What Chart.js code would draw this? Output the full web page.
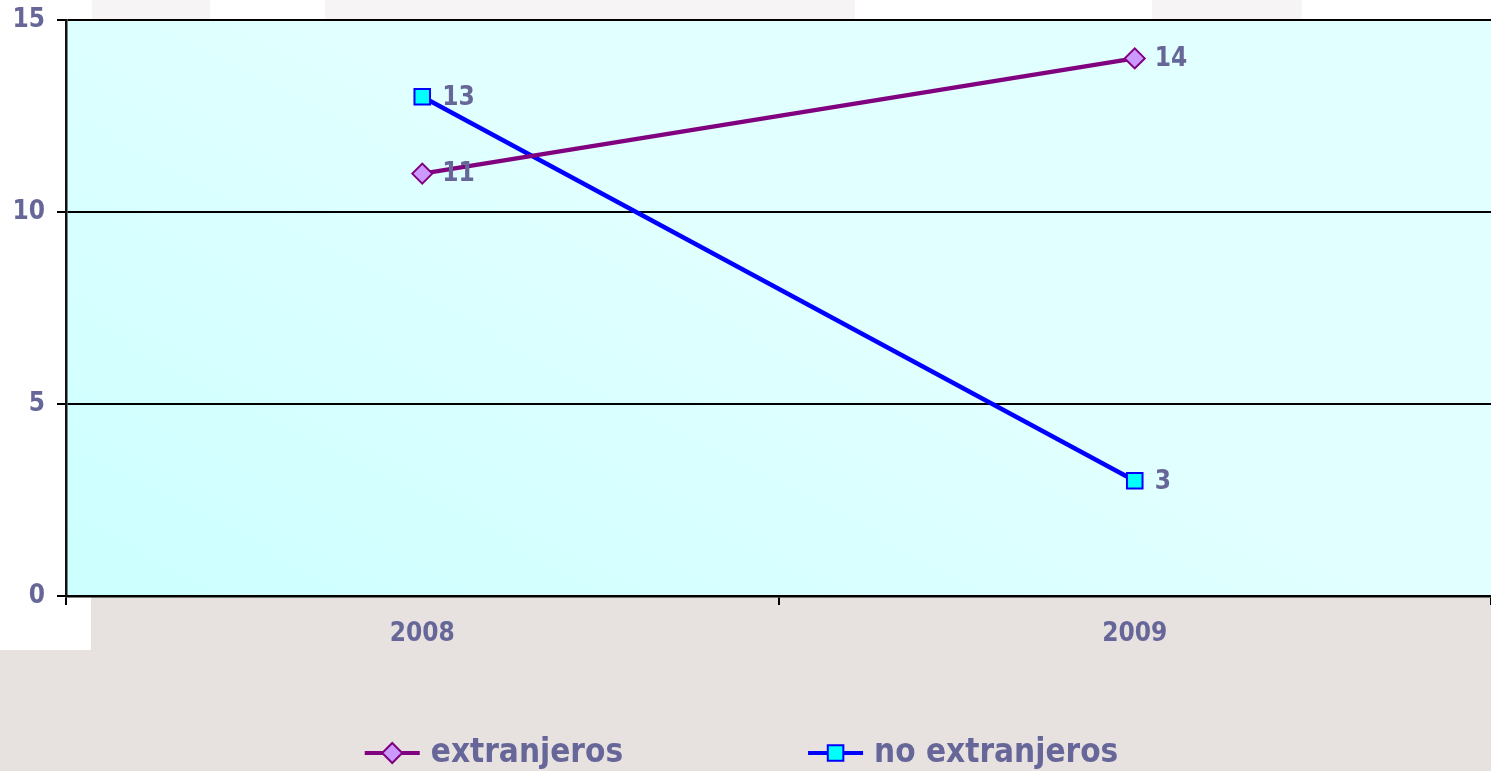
<!DOCTYPE html>
<html>
<head>
<meta charset="utf-8">
<script src="https://cdn.jsdelivr.net/npm/chart.js@4.4.0/dist/chart.umd.min.js"></script>
<style>
    html, body { margin: 0; padding: 0; background: #ffffff; }
    #wrap { width: 1491px; height: 771px; }
</style>
</head>
<body>
<div id="wrap"><canvas id="myLineChart" width="1491" height="771"></canvas></div>
<script>
var years = ["2008", "2009"];
var extranjeros = [11, 14];
var noExtranjeros = [13, 3];
var seriesNames = ["extranjeros", "no extranjeros"];
var yMin = 0;
var yMax = 15;
var yStep = 5;

var FONT = '"DejaVu Sans Condensed", "DejaVu Sans", sans-serif';
var TEXT = "#666699";

// page background + plot area gradient
var backgroundPlugin = {
    id: "pageBackground",
    beforeDraw: function (chart) {
        var ctx = chart.ctx;
        var a = chart.chartArea;
        var w = chart.width;
        var h = chart.height;
        ctx.save();
        ctx.fillStyle = "#ffffff";
        ctx.fillRect(0, 0, w, h);
        ctx.fillStyle = "#f6f4f4";
        ctx.fillRect(92, 0, 118, a.top);
        ctx.fillRect(325, 0, 530, a.top);
        ctx.fillRect(1152, 0, 150, a.top);
        ctx.fillStyle = "#e7e2e0";
        ctx.fillRect(91, a.bottom, w - 91, h - a.bottom);
        ctx.fillRect(0, a.bottom + 54, 91, h - a.bottom - 54);
        var g = ctx.createLinearGradient(a.left, a.bottom, a.left + 300, a.top);
        g.addColorStop(0, "#ccffff");
        g.addColorStop(1, "#e2ffff");
        ctx.fillStyle = g;
        ctx.fillRect(a.left, a.top, a.right - a.left, a.bottom - a.top);
        ctx.restore();
    },
};

// value labels to the right of each point
var valueLabelPlugin = {
    id: "valueLabels",
    afterDatasetsDraw: function (chart) {
        var ctx = chart.ctx;
        ctx.save();
        ctx.font = "bold 26px " + FONT;
        ctx.fillStyle = TEXT;
        ctx.textAlign = "left";
        ctx.textBaseline = "middle";
        chart.data.datasets.forEach(function (ds, i) {
            chart.getDatasetMeta(i).data.forEach(function (pt, j) {
                ctx.fillText(String(ds.data[j]), pt.x + 20, pt.y + 1);
            });
        });
        ctx.restore();
    },
};

// legend: line + marker sample, then name
var bottomLegendPlugin = {
    id: "bottomLegend",
    afterDraw: function (chart) {
        var ctx = chart.ctx;
        var y = chart.height - 18;
        var lineLen = 55;
        var gapText = 11;
        var gapItem = 185;
        ctx.save();
        ctx.font = "bold 33px " + FONT;
        var widths = chart.data.datasets.map(function (ds) {
            return ctx.measureText(ds.label).width;
        });
        var total = 0;
        widths.forEach(function (wd, i) {
            total += lineLen + gapText + wd + (i > 0 ? gapItem : 0);
        });
        var x = (chart.width - total) / 2 - 4;
        chart.data.datasets.forEach(function (ds, i) {
            ctx.strokeStyle = ds.borderColor;
            ctx.lineWidth = 4;
            ctx.beginPath();
            ctx.moveTo(x, y);
            ctx.lineTo(x + lineLen, y);
            ctx.stroke();
            ctx.fillStyle = ds.pointBackgroundColor;
            ctx.strokeStyle = ds.pointBorderColor;
            ctx.lineWidth = ds.pointBorderWidth;
            Chart.helpers.drawPoint(ctx, {
                pointStyle: ds.pointStyle,
                radius: ds.pointRadius,
                borderWidth: ds.pointBorderWidth,
                rotation: 0,
            }, x + lineLen / 2, y);
            ctx.fillStyle = TEXT;
            ctx.textAlign = "left";
            ctx.textBaseline = "middle";
            ctx.fillText(ds.label, x + lineLen + gapText, y);
            x += lineLen + gapText + widths[i] + gapItem;
        });
        ctx.restore();
    },
};

var ctx = document.getElementById("myLineChart");
new Chart(ctx, {
    type: "line",
    data: {
        labels: years,
        datasets: [
            {
                label: seriesNames[0],
                data: extranjeros,
                borderColor: "#800080",
                borderWidth: 4.5,
                pointStyle: "rectRot",
                pointRadius: 10,
                pointBackgroundColor: "#cc99ff",
                pointBorderColor: "#800080",
                pointBorderWidth: 2,
                tension: 0,
            },
            {
                label: seriesNames[1],
                data: noExtranjeros,
                borderColor: "#0000ff",
                borderWidth: 4.5,
                pointStyle: "rect",
                pointRadius: 11,
                pointBackgroundColor: "#00ffff",
                pointBorderColor: "#0000ff",
                pointBorderWidth: 2,
                tension: 0,
            },
        ],
    },
    options: {
        responsive: false,
        animation: false,
        devicePixelRatio: 1,
        layout: {
            autoPadding: false,
            padding: { top: 20, left: 0, right: 0, bottom: 0 },
        },
        plugins: {
            legend: { display: false },
            tooltip: { enabled: false },
        },
        scales: {
            x: {
                offset: true,
                grid: {
                    offset: true,
                    drawOnChartArea: false,
                    drawTicks: true,
                    tickLength: 9,
                    color: "#000000",
                    lineWidth: 2,
                },
                border: { display: true, color: "#000000", width: 2.5 },
                ticks: {
                    color: TEXT,
                    font: { family: FONT, size: 26, weight: "bold" },
                    padding: 14,
                },
                afterFit: function (scale) {
                    scale.height = 175;
                    scale.paddingLeft = 0;
                    scale.paddingRight = 0;
                },
            },
            y: {
                min: yMin,
                max: yMax,
                grid: {
                    color: "#000000",
                    lineWidth: 2,
                    tickLength: 9,
                },
                border: { display: true, color: "#111111", width: 2.5 },
                ticks: {
                    stepSize: yStep,
                    color: TEXT,
                    font: { family: FONT, size: 26, weight: "bold" },
                    padding: 12,
                },
                afterFit: function (scale) {
                    scale.width = 66;
                    scale.paddingTop = 0;
                    scale.paddingBottom = 0;
                },
            },
        },
    },
    plugins: [backgroundPlugin, valueLabelPlugin, bottomLegendPlugin],
});
</script>
</body>
</html>
